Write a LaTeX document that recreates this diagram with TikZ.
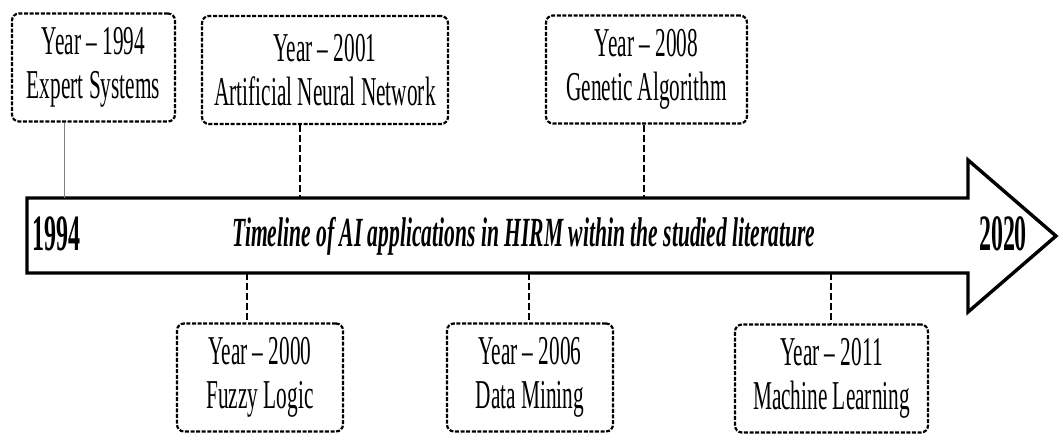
\documentclass[tikz,border=0pt]{standalone}
\usepackage{fontspec}
\setmainfont{Liberation Serif}
\newfontfamily\narrowfont[FakeStretch=0.52]{Liberation Serif}
\newfontfamily\endfont[FakeStretch=0.47]{Liberation Serif}

\begin{document}
\begin{tikzpicture}[x=1pt,y=-1pt,
    yearbox/.style={draw,rounded corners=7pt,dash pattern=on 4pt off 1.6pt,
        line width=2.2pt,align=center,inner sep=0pt,minimum height=108pt,
        font=\narrowfont\fontsize{41}{44}\selectfont},
    tickline/.style={dash pattern=on 7pt off 3pt,line width=1.7pt},
    endyear/.style={inner sep=0pt,font=\endfont\bfseries\fontsize{51}{51}\selectfont}]
    \useasboundingbox (0,0) rectangle (1061,436);

    % the timeline arrow
    \draw [line width=3.4pt,fill=white] (27,198) -- (968,198) -- (968,160)
	-- (1056,236) -- (968,312) -- (968,273) -- (27,273) -- cycle;
    \path (497.5,235.5) node [minimum width=941pt,minimum height=75pt] (shaft) {};
    \path (32,234) node [endyear,anchor=west] (y1994) {1994};
    \path (1003,234) node [endyear] (y2020) {2020};
    \path (524,236) node [font=\narrowfont\bfseries\itshape\fontsize{41.5}{41.5}\selectfont]
	(title) {Timeline of AI applications in HIRM within the studied literature};

    % ticks on the arrow
    \coordinate (t1994) at (64,198);
    \coordinate (t2001) at (300,198);
    \coordinate (t2008) at (644,198);
    \coordinate (t2000) at (247,273);
    \coordinate (t2006) at (529,273);
    \coordinate (t2011) at (831,273);

    % above
    \path (93.5,67.5) node [yearbox,minimum width=163pt] (es) {Year – 1994\\Expert Systems};
    \draw [gray,line width=1pt] (es.south -| t1994) -- (t1994);
    \path (325,70) node [yearbox,minimum width=246pt] (ann) {Year – 2001\\Artificial Neural Network};
    \draw [tickline] (ann.south -| t2001) -- (t2001);
    \path (646.5,69.5) node [yearbox,minimum width=201pt] (ga) {Year – 2008\\Genetic Algorithm};
    \draw [tickline] (ga.south -| t2008) -- (t2008);

    % below
    \path (260,377.5) node [yearbox,minimum width=166pt] (fl) {Year – 2000\\Fuzzy Logic};
    \draw [tickline] (t2000) -- (fl.north -| t2000);
    \path (530,377.5) node [yearbox,minimum width=166pt] (dm) {Year – 2006\\Data Mining};
    \draw [tickline] (t2006) -- (dm.north -| t2006);
    \path (831.5,378.5) node [yearbox,minimum width=193pt] (ml) {Year – 2011\\Machine Learning};
    \draw [tickline] (t2011) -- (ml.north -| t2011);
\end{tikzpicture}
\end{document}
